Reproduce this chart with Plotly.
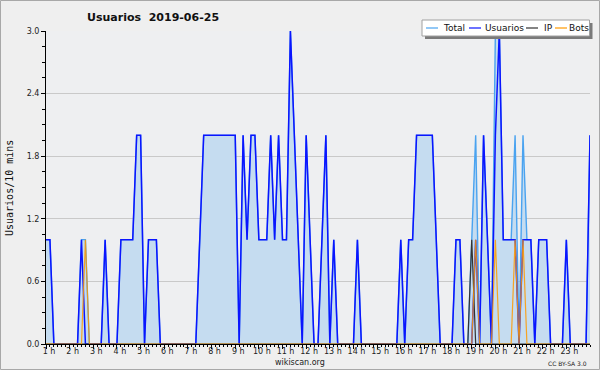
import plotly.graph_objects as go

# 10-minute bins from 1:00 to 24:00 (139 samples)
bin_minutes = list(range(60, 24 * 60 + 1, 10))
hours = [m / 60 for m in bin_minutes]

usuarios = [1, 1, 0, 0, 0, 0, 0, 0, 0, 1, 0, 0, 0, 0, 0, 1, 0, 0, 0, 1,
            1, 1, 1, 2, 2, 0, 1, 1, 1, 0, 0, 0, 0, 0, 0, 0, 0, 0, 0, 1,
            2, 2, 2, 2, 2, 2, 2, 2, 2, 0, 2, 1, 2, 2, 1, 1, 1, 2, 1, 2,
            1, 1, 3, 2, 1, 0, 2, 1, 0, 0, 1, 2, 0, 1, 0, 0, 0, 0, 0, 1,
            0, 0, 0, 0, 0, 0, 0, 0, 0, 0, 1, 0, 1, 1, 2, 2, 2, 2, 2, 1,
            0, 0, 0, 0, 1, 1, 0, 0, 0, 1, 0, 2, 1, 0, 2, 3, 1, 1, 1, 1,
            0, 1, 1, 1, 0, 1, 1, 1, 0, 0, 0, 0, 1, 0, 0, 0, 0, 0, 2]
ip = [0] * 108 + [1] + [0] * 30
bots = ([0] * 10 + [1] + [0] * 98 + [1] + [0] * 4 + [1] + [0] * 4 + [1] + [0] + [1]
        + [0] * 17)
total = [u + i + b for u, i, b in zip(usuarios, ip, bots)]

tick_hours = list(range(1, 24))
tick_text = [f"{h} h" for h in tick_hours]

legend_names = ["Total", "Usuarios", "IP", "Bots"]
colors = {"Total": "#4aa3f0", "Usuarios": "#0a14ff", "IP": "#333333", "Bots": "#ff9a00"}

L, R, T, B = 46, 10, 31, 26
W, H = 600, 370
PW, PH = W - L - R, H - T - B


def px(x):
    return (x - L) / PW


def py(y):
    return (H - B - y) / PH


fig = go.Figure()
fig.add_trace(go.Scatter(x=hours, y=total, mode="lines", fill="tozeroy",
                         fillcolor="#c5dcf0", line=dict(color=colors["Total"], width=1.4),
                         name="Total", showlegend=False))
fig.add_trace(go.Scatter(x=hours, y=usuarios, mode="lines",
                         line=dict(color=colors["Usuarios"], width=1.5),
                         name="Usuarios", showlegend=False))
fig.add_trace(go.Scatter(x=hours, y=ip, mode="lines",
                         line=dict(color=colors["IP"], width=1.2),
                         name="IP", showlegend=False))
fig.add_trace(go.Scatter(x=hours, y=bots, mode="lines", opacity=0.85,
                         line=dict(color=colors["Bots"], width=1.2),
                         name="Bots", showlegend=False))

shapes = [
    # outer border
    dict(type="rect", xref="paper", yref="paper", x0=px(0.5), x1=px(599.5),
         y0=py(369.5), y1=py(0.5), line=dict(color="#a8a8a8", width=1), layer="below"),
    # legend shadow
    dict(type="rect", xref="paper", yref="paper", x0=px(425), x1=px(592.5),
         y0=py(39), y1=py(23), line=dict(width=0), fillcolor="#7a7a7a"),
    # legend box
    dict(type="rect", xref="paper", yref="paper", x0=px(422), x1=px(589.5),
         y0=py(36), y1=py(20), line=dict(color="#a0a0a0", width=1), fillcolor="#ffffff"),
]
annotations = []
leg_line_x = [426, 469, 526, 555]
leg_text_x = [441, 483, 542, 567]
for name, lx, tx in zip(legend_names, leg_line_x, leg_text_x):
    shapes.append(dict(type="line", xref="paper", yref="paper", x0=px(lx), x1=px(lx + 12),
                       y0=py(28), y1=py(28), line=dict(color=colors[name], width=1.2)))
    annotations.append(dict(text=name, xref="paper", yref="paper", x=px(tx), y=py(28.5),
                            xanchor="left", yanchor="middle", showarrow=False,
                            font=dict(family="DejaVu Sans", size=9, color="#111")))

annotations += [
    dict(text="<b>Usuarios  2019-06-25</b>", xref="paper", yref="paper", x=px(85), y=py(17),
         xanchor="left", yanchor="middle", showarrow=False,
         font=dict(family="DejaVu Sans", size=11, color="#111")),
    dict(text="Usuarios/10 mins", xref="paper", yref="paper", x=px(9), y=py(188),
         xanchor="center", yanchor="middle", textangle=-90, showarrow=False,
         font=dict(family="DejaVu Sans Mono", size=10, color="#111")),
    dict(text="wikiscan.org", xref="paper", yref="paper", x=px(300), y=py(362),
         xanchor="center", yanchor="middle", showarrow=False,
         font=dict(family="DejaVu Sans", size=8, color="#222")),
    dict(text="CC BY-SA 3.0", xref="paper", yref="paper", x=px(589), y=py(363),
         xanchor="right", yanchor="middle", showarrow=False,
         font=dict(family="DejaVu Sans", size=6, color="#222")),
]

fig.update_layout(
    width=W, height=H, margin=dict(l=L, r=R, t=T, b=B),
    paper_bgcolor="#efefef", plot_bgcolor="#eeeff1",
    shapes=shapes, annotations=annotations, showlegend=False,
    xaxis=dict(range=[1, 24], tickvals=tick_hours, ticktext=tick_text,
               ticks="outside", ticklen=4, tickcolor="#000", tickwidth=1,
               showline=True, linecolor="#000", linewidth=1, showgrid=False, zeroline=False,
               tickfont=dict(family="DejaVu Sans", size=8, color="#222"),
               ticklabelshift=3, ticklabelstandoff=-5,
               minor=dict(dtick=1 / 6, tick0=1, ticks="outside", ticklen=2,
                          tickcolor="#000", showgrid=False)),
    yaxis=dict(range=[0, 3], tick0=0, dtick=0.6, tickformat=".1f",
               ticks="outside", ticklen=4, tickcolor="#000", tickwidth=1,
               showline=True, linecolor="#000", linewidth=1,
               showgrid=True, gridcolor="#c9c9c9", gridwidth=1, zeroline=False,
               tickfont=dict(family="DejaVu Sans", size=8, color="#222"),
               ticklabelstandoff=0,
               minor=dict(dtick=0.15, ticks="outside", ticklen=3, tickcolor="#000",
                          showgrid=False)),
)

fig.write_html("out.html", config={"displayModeBar": False},
               post_script="document.body.style.margin='0';"
               "document.body.style.overflow='hidden';")
